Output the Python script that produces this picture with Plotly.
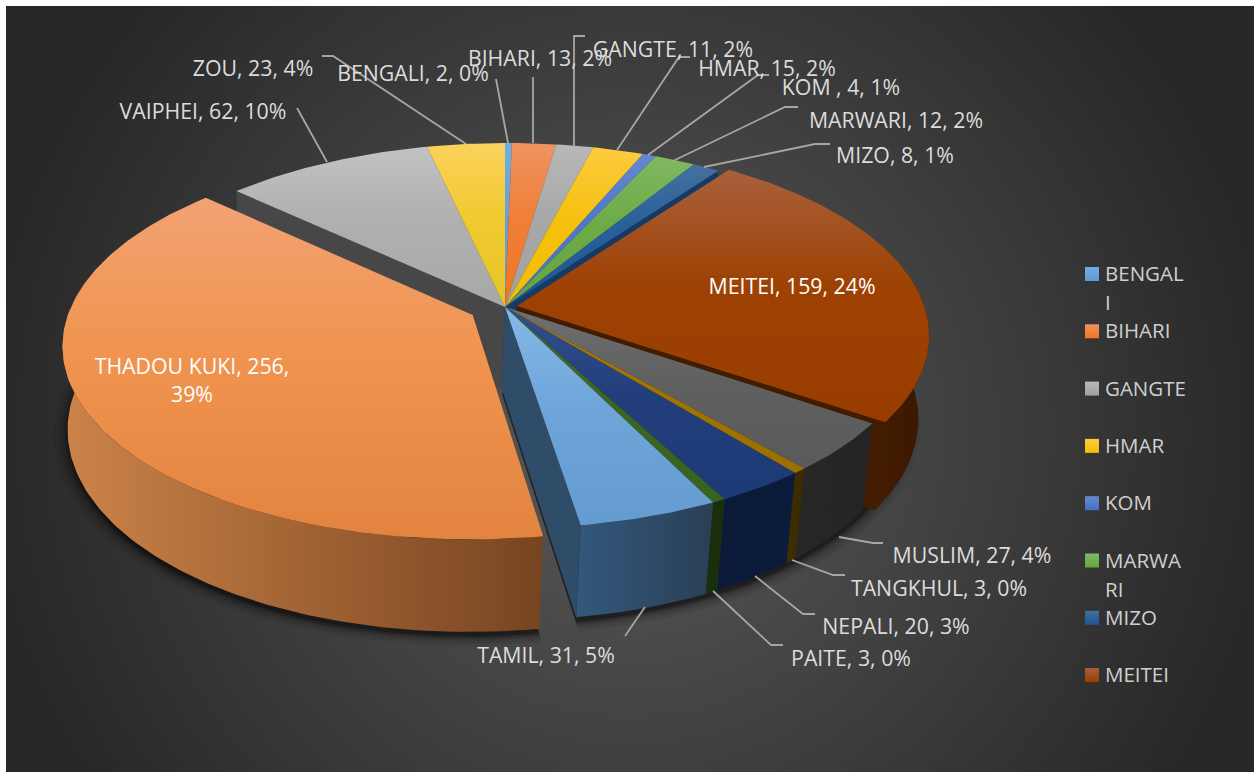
import base64
import math
import plotly.graph_objects as go

# ---- data ----
categories = ["BENGALI", "BIHARI", "GANGTE", "HMAR", "KOM ", "MARWARI", "MIZO", "MEITEI",
              "MUSLIM", "TANGKHUL", "NEPALI", "PAITE", "TAMIL", "THADOU KUKI", "VAIPHEI", "ZOU"]
values = [2, 13, 11, 15, 4, 12, 8, 159, 27, 3, 20, 3, 31, 256, 62, 23]
legend_lines = [["BENGAL", "I"], ["BIHARI"], ["GANGTE"], ["HMAR"], ["KOM"], ["MARWA", "RI"], ["MIZO"], ["MEITEI"]]

# ---- styles ----
top_light = ["#72ade2", "#ee9460", "#b8b8b8", "#fdcb3e", "#6388d2", "#80b862", "#44709f", "#a9603c",
             "#707070", "#aa7a00", "#31508a", "#416f2a", "#86b8e6", "#f3a273", "#c2c2c2", "#fbd25c"]
top_mid = ["#64a2da", "#f07f38", "#a8a8a8", "#f5c10f", "#4d7ac8", "#6dab47", "#27609a", "#9e4204",
           "#606060", "#a07400", "#223f7c", "#3b6622", "#6ea6da", "#f0944f", "#b0b0b0", "#f0ca30"]
top_dark = ["#5b9bd5", "#f27420", "#a0a0a0", "#f2bd00", "#4472c4", "#66a53e", "#1c5590", "#983c00",
            "#5a5a5a", "#9c7000", "#1c3a76", "#38621f", "#659cd0", "#e28440", "#a8a8a8", "#e6c428"]
wall_left = {7: "#451d02", 8: "#272727", 9: "#3f2e00", 10: "#0a1a38", 11: "#1a2e0c", 12: "#33587c", 13: "#cc8348"}
wall_right = {7: "#3a1700", 8: "#242424", 9: "#3a2a00", 10: "#0b1c3a", 11: "#1a2e0c", 12: "#2a3f55", 13: "#774421"}
explode = {7: 0.03, 13: 0.09}
label_x = [413, 540, 673, 767, 841, 896, 895, 792, 972, 939, 896, 851, 546, 192, 203, 253]
label_y = [76, 61, 52, 71, 90, 123, 158, 289, 558, 591, 629, 661, 658, 383, 114, 71]
leaders = [
    [(508, 143), (496, 79)], [(533, 143), (533, 77)], [(574, 146), (574, 36), (585, 36)],
    [(617, 150), (679, 57), (690, 57)], [(648, 155), (758, 75), (769, 75)],
    [(673, 161), (785, 107), (798, 107)], [(704, 167), (815, 144), (830, 144)],
    [(839, 537), (873, 543), (883, 543)], [(792, 560), (833, 575), (845, 575)],
    [(755, 576), (803, 614), (815, 614)], [(713, 591), (771, 645), (783, 645)],
    [(645, 607), (625, 636)], [(327, 162), (297, 108)], [(466, 144), (333, 56), (322, 56)],
]

# projection of the tilted disc onto the page
CX, CY, A, B, H, K, J, M, SHIFT = 505, 307, 405, 188.4, 84, 0.149, -0.006, 0.018, -3
total = sum(values)


def proj(theta, r=1.0, ex=0.0, mid=0.0, depth=0.0):
    X = r * math.sin(theta) + ex * math.sin(mid)
    Y = r * math.cos(theta) + ex * math.cos(mid)
    den = 1 + K * Y + J * X + M * depth
    return CX + A * X / den + SHIFT * depth, CY - B * Y / den + H * depth / den


def arc(a0, a1, n=None, **kw):
    n = n or max(3, int(abs(a1 - a0) * 60))
    return [proj(a0 + (a1 - a0) * i / n, **kw) for i in range(n + 1)]


cum = [0]
for v in values:
    cum.append(cum[-1] + v)
start = [2 * math.pi * c / total for c in cum[:-1]]
end = [2 * math.pi * c / total for c in cum[1:]]
mids = [(s + e) / 2 for s, e in zip(start, end)]

fig = go.Figure()


def poly(pts, name, **kw):
    xs, ys = zip(*pts)
    fig.add_trace(go.Scatter(x=list(xs) + [xs[0]], y=list(ys) + [ys[0]], mode="lines", fill="toself",
                             line=dict(width=0), name=name, hoverinfo="name", showlegend=False, **kw))


def geo(i):
    return dict(ex=explode.get(i, 0.0), mid=mids[i])


def vgrad(i):
    return dict(fillgradient=dict(type="vertical",
                                  colorscale=[[0, top_dark[i]], [0.55, top_mid[i]], [1, top_light[i]]]))


def hgrad(left, right):
    return dict(fillgradient=dict(type="horizontal", colorscale=[[0, left], [1, right]]))


def top(i):
    g = geo(i)
    pts = [proj(0, r=0, **g)] + arc(start[i], end[i], **g)
    poly(pts, categories[i], **vgrad(i))


def outer_wall(i, a0, a1, left, right):
    g = geo(i)
    pts = arc(a0, a1, **g) + arc(a1, a0, depth=1, **g)
    poly(pts, categories[i] + " side", **hgrad(left, right))


def cut_wall(i, a, color):
    g = geo(i)
    pts = [proj(0, r=0, **g), proj(a, **g), proj(a, depth=1, **g), proj(0, r=0, depth=1, **g)]
    poly(pts, categories[i] + " cut", fillcolor=color)


# soft shadow beneath the disc
for grow, alpha in [(0.035, 0.06), (0.025, 0.08), (0.015, 0.12), (0.007, 0.2), (0.0, 0.3)]:
    r = 1 + grow
    pts = arc(math.radians(60), end[12], n=80, r=r, depth=1.05)
    pts = [proj(0, r=0, depth=1.05)] + pts
    poly(pts, "shadow", fillcolor=f"rgba(0,0,0,{alpha})")
    g = geo(13)
    pts = [proj(0, r=0, depth=1.05, **g)] + arc(start[13], end[13], n=120, r=r, depth=1.05, **g)
    poly(pts, "shadow", fillcolor=f"rgba(0,0,0,{alpha})")

# far walls exposed by the exploded slices
cut_wall(14, start[14], "#474747")
cut_wall(6, end[6], "#153a66")
cut_wall(7, end[7], "#421c00")
outer_wall(7, math.radians(70), end[7], wall_left[7], wall_right[7])
for i in [8, 9, 10, 11, 12]:
    outer_wall(i, start[i], end[i], wall_left[i], wall_right[i])
cut_wall(12, end[12], "#2f4c68")

# top faces
for i in range(16):
    if i not in (7, 13):
        top(i)
top(7)
outer_wall(13, start[13], math.radians(272), wall_left[13], wall_right[13])
top(13)

# leader lines
lx, ly = [], []
for seg in leaders:
    lx += [p[0] for p in seg] + [None]
    ly += [p[1] for p in seg] + [None]
fig.add_trace(go.Scatter(x=lx, y=ly, mode="lines", line=dict(color="#a6a6a6", width=1.8),
                         hoverinfo="skip", showlegend=False))

# data labels
texts = [f"{c}, {v}, {round(100 * v / total)}%" for c, v in zip(categories, values)]
texts[13] = texts[13].replace("256, ", "256,<br>")
colors = ["#ffffff" if i in (7, 13) else "#dcdcdc" for i in range(16)]
fig.add_trace(go.Scatter(x=label_x, y=label_y, mode="text", text=texts, textposition="middle center",
                         textfont=dict(family="Open Sans", size=21.3, color=colors),
                         hoverinfo="skip", showlegend=False))

# legend
LEG_X, LEG_Y0, LEG_DY, LEG_LINE = 1092, 274, 57.3, 29
fig.add_trace(go.Scatter(x=[LEG_X] * len(legend_lines), y=[LEG_Y0 + LEG_DY * i for i in range(len(legend_lines))],
                         mode="markers",
                         marker=dict(symbol="square", size=14, color=top_light[:8], line=dict(width=0),
                                     gradient=dict(type="vertical", color=top_dark[:8])),
                         hoverinfo="skip", showlegend=False))
tx, ty, tt = [], [], []
for i, lines in enumerate(legend_lines):
    for j, s in enumerate(lines):
        tx.append(LEG_X + 13)
        ty.append(LEG_Y0 + 2 + LEG_DY * i + j * LEG_LINE)
        tt.append(s)
fig.add_trace(go.Scatter(x=tx, y=ty, mode="text", text=tt, textposition="middle right",
                         textfont=dict(family="Open Sans", size=20.5, color="#cfcfcf"),
                         hoverinfo="skip", showlegend=False))

svg = ('<svg xmlns="http://www.w3.org/2000/svg" width="1248" height="766"><defs>'
       '<radialGradient id="g" gradientUnits="userSpaceOnUse" cx="624" cy="424" r="650">'
       '<stop offset="0" stop-color="#5a5a5a"/><stop offset="1" stop-color="#272727"/></radialGradient></defs>'
       '<rect width="1248" height="766" fill="url(#g)"/></svg>')
bg = "data:image/svg+xml;base64," + base64.b64encode(svg.encode()).decode()

fig.update_layout(
    width=1257, height=772, margin=dict(l=0, r=0, t=0, b=0),
    paper_bgcolor="white", plot_bgcolor="white", showlegend=False,
    xaxis=dict(range=[0, 1257], visible=False, fixedrange=True),
    yaxis=dict(range=[772, 0], visible=False, fixedrange=True),
    images=[dict(source=bg, xref="x", yref="y", x=6, y=6, sizex=1248, sizey=766,
                 xanchor="left", yanchor="top", sizing="stretch", layer="below")],
)
fig.write_html("out.html", post_script="document.body.style.margin='0';document.body.style.overflow='hidden';",
               config=dict(displayModeBar=False))
